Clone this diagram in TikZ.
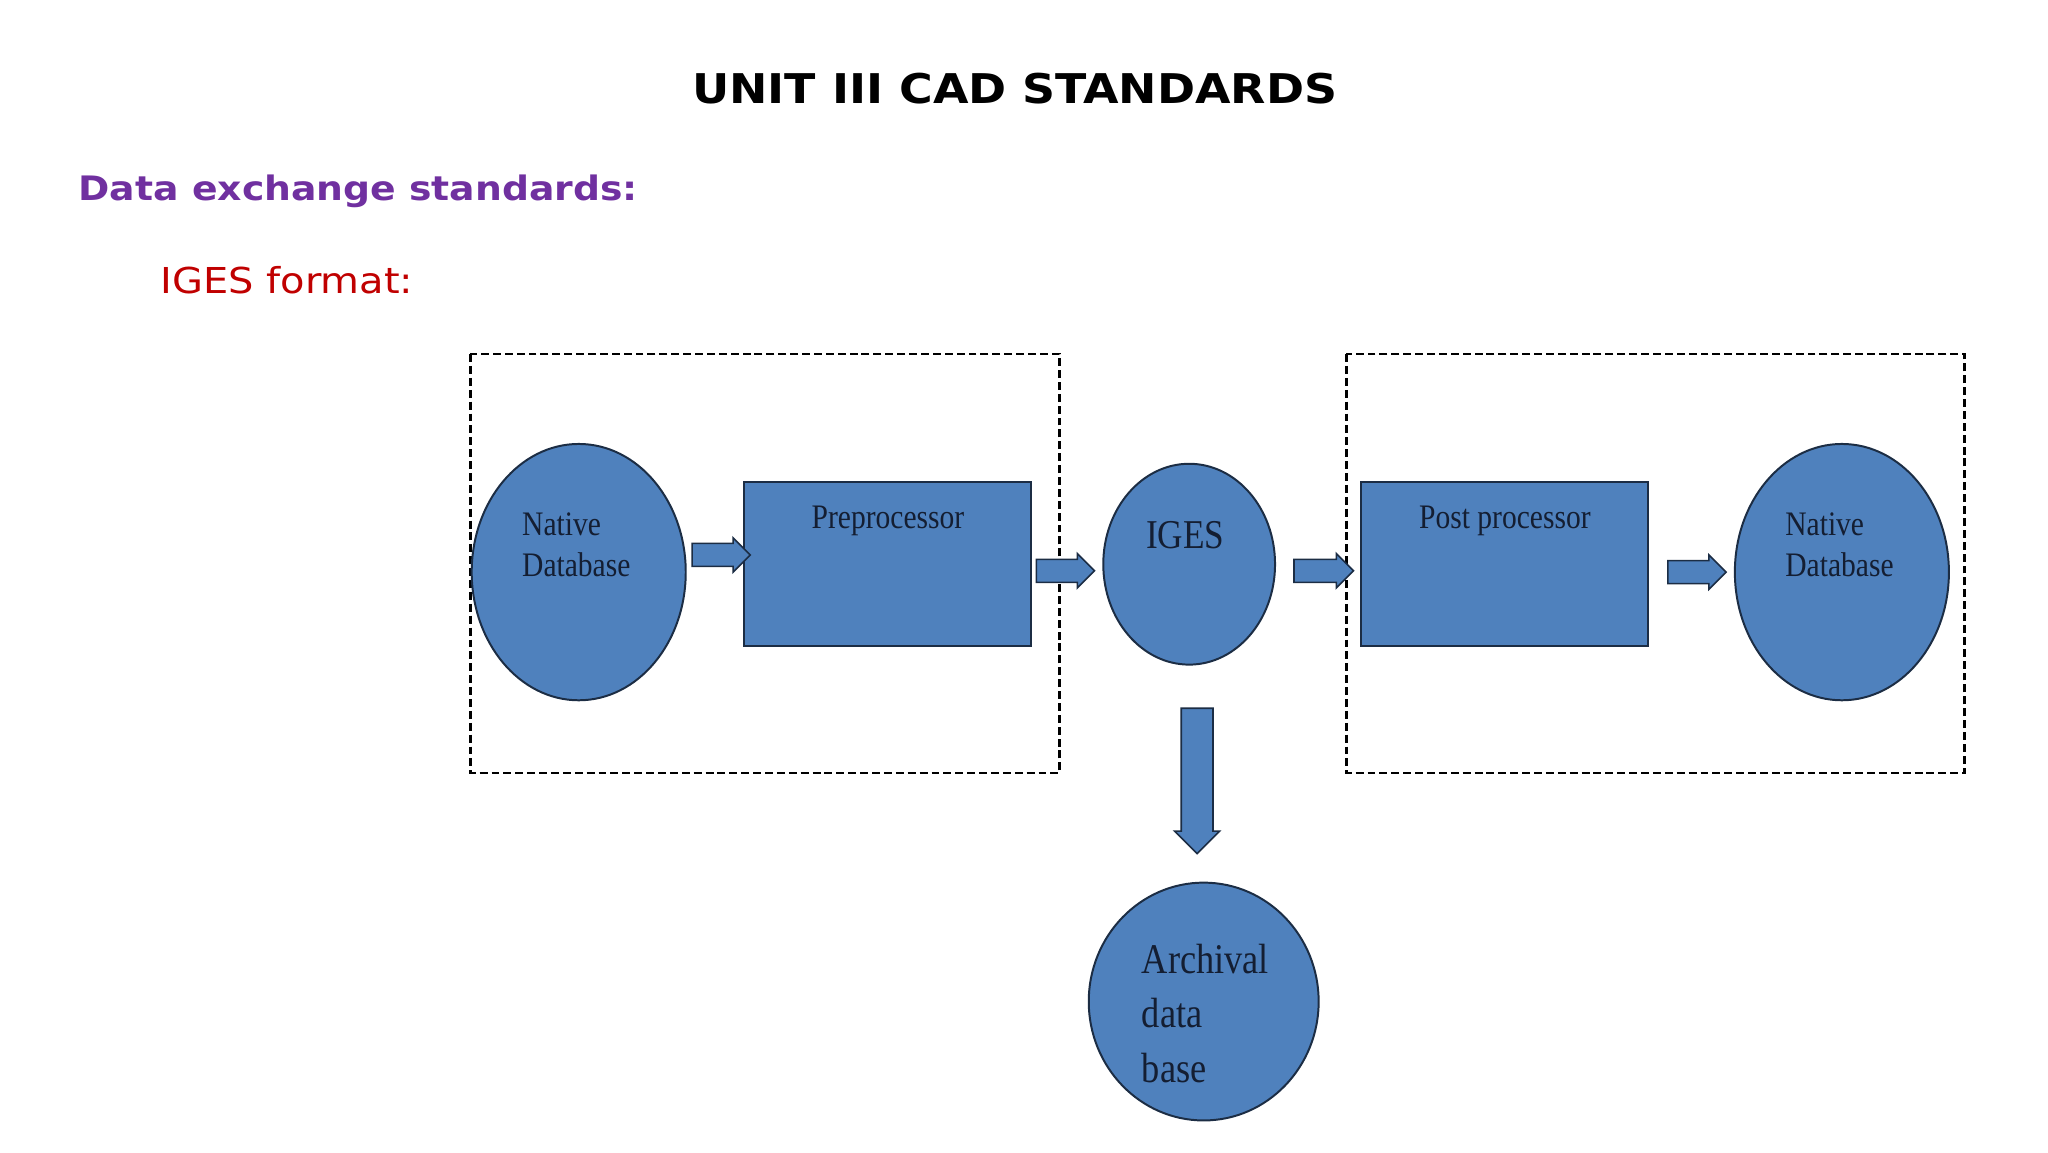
\documentclass[tikz,border=0pt]{standalone}
\usepackage{fontspec}
\setmainfont[FakeStretch=0.86]{Liberation Serif}
\newfontfamily\verd[FakeStretch=1.12]{DejaVu Sans}
\usetikzlibrary{shapes.geometric,shapes.arrows}
\definecolor{fillb}{RGB}{79,129,189}
\definecolor{edgeb}{RGB}{28,45,68}
\definecolor{txtb}{RGB}{20,30,50}
\definecolor{purp}{RGB}{112,48,160}
\definecolor{dred}{RGB}{192,0,0}
\tikzset{
 blob/.style={ellipse,fill=fillb,draw=edgeb,line width=1.5pt,inner sep=0pt},
 blk/.style={rectangle,fill=fillb,draw=edgeb,line width=1.5pt,inner sep=0pt},
 barrow/.style={single arrow,fill=fillb,draw=edgeb,line width=1.2pt,minimum width=26pt,single arrow head extend=4pt,inner sep=7.5pt,single arrow head indent=0pt},
 dbox/.style={draw=black,dashed,line width=2pt,dash pattern=on 6pt off 3pt},
 lbl/.style={text=txtb,font=\fontsize{26}{31}\selectfont,align=left,inner sep=0pt}
}
\begin{document}
\begin{tikzpicture}[x=1pt,y=-1pt]
\useasboundingbox (0,0) rectangle (1550,872);
\node[font=\verd\bfseries\fontsize{31}{36}\selectfont] (title) at (768,67) {UNIT III CAD STANDARDS};
\node[anchor=west,text=purp,font=\verd\bfseries\fontsize{25.5}{30}\selectfont] (sec) at (56,145) {Data exchange standards:};
\node[anchor=west,text=dred,font=\verd\fontsize{27}{32}\selectfont] (sub) at (118,212) {IGES format:};
\draw[dbox] (356,268) rectangle (802,585);
\draw[dbox] (1019,268) rectangle (1487,585);
\node[blob,minimum width=162pt,minimum height=194pt] (n1) at (438,433) {};
\node[lbl,anchor=west] at (395,412) {Native\\Database};
\node[blk,minimum width=217pt,minimum height=124pt] (pre) at (671.5,427) {};
\node[lbl] at (672,394) {Preprocessor};
\node[blob,minimum width=130pt,minimum height=152pt] (iges) at (900,427) {};
\node[lbl,font=\fontsize{31}{34}\selectfont] at (897,405) {IGES};
\node[blk,minimum width=217pt,minimum height=124pt] (post) at (1138.5,427) {};
\node[lbl] at (1139,394) {Post processor};
\node[blob,minimum width=162pt,minimum height=194pt] (n2) at (1394,433) {};
\node[lbl,anchor=west] at (1351,412) {Native\\Database};
\node[blob,minimum width=174pt,minimum height=180pt] (arch) at (911,758) {};
\node[lbl,anchor=west,font=\fontsize{32}{41}\selectfont] at (864,767) {Archival\\data\\base};
\node[barrow,minimum height=44pt] (a1) at (541.5,420) {};
\node[barrow,minimum height=44pt] (a2) at (802,432) {};
\node[barrow,minimum height=45pt] (a3) at (997.5,432) {};
\node[barrow,minimum height=44pt] (a4) at (1280,433) {};
\node[barrow,minimum height=110pt,minimum width=34pt,inner sep=9pt,rotate=-90] (a5) at (906,585) {};
\end{tikzpicture}
\end{document}
